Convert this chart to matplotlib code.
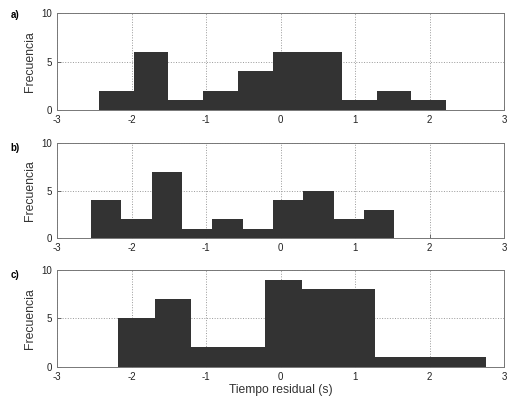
import numpy as np
import matplotlib.pyplot as plt

plt.rcParams["axes.unicode_minus"] = False

# Bin edges and counts
edges_a = np.array([-2.436, -1.970, -1.504, -1.038, -0.572, -0.106,
                    0.360, 0.826, 1.292, 1.758, 2.224])
counts_a = [2, 6, 1, 2, 4, 6, 6, 1, 2, 1]

edges_b = np.array([-2.544, -2.137, -1.730, -1.323, -0.916, -0.509,
                    -0.102, 0.305, 0.712, 1.119, 1.526])
counts_b = [4, 2, 7, 1, 2, 1, 4, 5, 2, 3]

edges_c = np.array([-2.185, -1.691, -1.197, -0.703, -0.209, 0.285,
                    0.779, 1.273, 1.767, 2.261, 2.755])
counts_c = [5, 7, 2, 2, 9, 8, 8, 1, 1, 1]

panel_labels = ["a)", "b)", "c)"]
x_ticks = [-3, -2, -1, 0, 1, 2, 3]
y_ticks = [0, 5, 10]

BAR_COLOR = "#333333"
FONT = "Liberation Sans"

fig = plt.figure(figsize=(5.15, 3.99), dpi=100)

# axes boxes in figure fractions: left, bottom, width, height
boxes = [
    [0.1107, 0.724, 0.868, 0.243],
    [0.1107, 0.4035, 0.868, 0.238],
    [0.1107, 0.081, 0.868, 0.2423],
]
label_y = [0.975, 0.642, 0.323]

data = [(edges_a, counts_a), (edges_b, counts_b), (edges_c, counts_c)]

for i, (edges, counts) in enumerate(data):
    ax = fig.add_axes(boxes[i])
    # one filled step polygon, so no seams between adjacent bins
    ax.stairs(counts, edges, fill=True, color=BAR_COLOR, linewidth=0,
              zorder=2)
    ax.set_xlim(-3, 3)
    ax.set_ylim(0, 10)
    ax.set_xticks(x_ticks)
    ax.set_yticks(y_ticks)
    ax.grid(True, linestyle=":", color="#999999", linewidth=0.7, zorder=0)
    ax.tick_params(direction="in", length=3, width=0.6, colors="#555555",
                   labelsize=7, labelcolor="#222222")
    for lbl in ax.get_xticklabels() + ax.get_yticklabels():
        lbl.set_fontfamily(FONT)
    for spine in ax.spines.values():
        spine.set_color("#777777")
        spine.set_linewidth(0.7)
    ax.set_ylabel("Frecuencia", fontsize=8.8, family=FONT, labelpad=4,
                  color="#333333")
    fig.text(0.02, label_y[i], panel_labels[i], fontsize=7,
             fontweight="bold", family=FONT, va="top")
    if i == 2:
        ax.set_xlabel("Tiempo residual (s)", fontsize=8.7, family=FONT,
                      labelpad=2, color="#333333")

fig.savefig("out.png", dpi=100)
